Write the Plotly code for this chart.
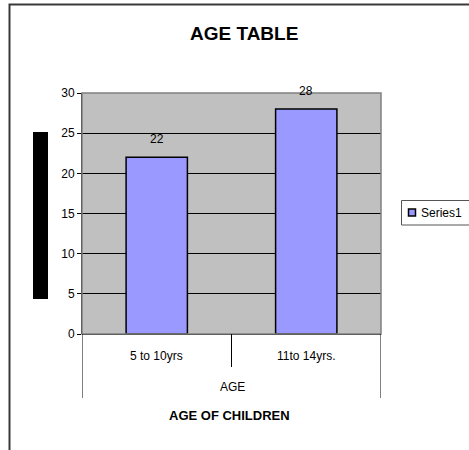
import plotly.graph_objects as go

categories = ["5 to 10yrs", "11to 14yrs."]
values = [22, 28]
group_label = "AGE"
series_name = "Series1"
title_text = "AGE TABLE"
x_title = "AGE OF CHILDREN"
y_ticks = [0, 5, 10, 15, 20, 25, 30]

W, H = 469, 450
L, R, T, B = 82, 88, 93, 116
PW, PH = W - L - R, H - T - B

def px(xp):
    return (xp - L) / PW

def py(yp):
    return (H - B - yp) / PH

FONT = "Liberation Sans, Arial, sans-serif"

fig = go.Figure()
fig.add_trace(go.Bar(
    x=categories, y=values, name=series_name, width=0.41,
    marker=dict(color="#9999FF", line=dict(color="#000000", width=1.5)),
    showlegend=False,
))

annotations = []
for c, v in zip(categories, values):
    annotations.append(dict(x=c, y=v, xref="x", yref="y", text=str(v), showarrow=False,
                            yanchor="bottom", yshift=9, font=dict(size=12, color="#000", family=FONT)))
    annotations.append(dict(x=c, y=py(356), xref="x", yref="paper", text=c, showarrow=False,
                            yanchor="middle", font=dict(size=12, color="#000", family=FONT)))
annotations.append(dict(x=px(232), y=py(387), xref="paper", yref="paper", text=group_label, showarrow=False,
                        yanchor="middle", font=dict(size=12, color="#000", family=FONT)))
annotations.append(dict(x=px(229), y=py(415), xref="paper", yref="paper", text="<b>" + x_title + "</b>",
                        showarrow=False, yanchor="middle", font=dict(size=13, color="#000", family=FONT)))
annotations.append(dict(x=px(244), y=py(33), xref="paper", yref="paper", text="<b>" + title_text + "</b>",
                        showarrow=False, yanchor="middle", font=dict(size=19, color="#000", family=FONT)))
# legend text
annotations.append(dict(x=px(419), y=py(212.5), xref="paper", yref="paper", text=series_name, showarrow=False,
                        xanchor="left", yanchor="middle", font=dict(size=12, color="#000", family=FONT)))

shapes = [
    # outer chart border
    dict(type="rect", xref="paper", yref="paper", x0=px(9.5), x1=px(480), y0=py(4.5), y1=py(460),
         line=dict(color="#3a3a3a", width=2), layer="below"),
    # plot area frame
    dict(type="rect", xref="paper", yref="paper", x0=0, x1=1, y0=0, y1=1,
         line=dict(color="#808080", width=1.5), layer="above"),
    # y axis title block (blacked out)
    dict(type="rect", xref="paper", yref="paper", x0=px(33), x1=px(48), y0=py(299), y1=py(132),
         fillcolor="#000", line=dict(width=0)),
    # category dividers
    dict(type="line", xref="x", yref="paper", x0=0.5, x1=0.5, y0=0, y1=py(367), line=dict(color="#000", width=1)),
    dict(type="line", xref="x", yref="paper", x0=-0.5, x1=-0.5, y0=0, y1=py(398), line=dict(color="#000", width=1)),
    dict(type="line", xref="x", yref="paper", x0=1.5, x1=1.5, y0=0, y1=py(398), line=dict(color="#000", width=1)),
    # legend box
    dict(type="rect", xref="paper", yref="paper", x0=px(401.5), x1=px(485), y0=py(225), y1=py(200.5),
         fillcolor="#fff", line=dict(color="#555", width=1)),
    dict(type="rect", xref="paper", yref="paper", x0=px(408.5), x1=px(415.5), y0=py(216), y1=py(209),
         fillcolor="#9999FF", line=dict(color="#000", width=1.5)),
]

fig.update_layout(
    width=W, height=H,
    margin=dict(l=L, r=R, t=T, b=B, autoexpand=False),
    paper_bgcolor="#ffffff", plot_bgcolor="#C0C0C0",
    font=dict(family=FONT, size=12, color="#000"),
    showlegend=False,
    annotations=annotations, shapes=shapes,
    xaxis=dict(type="category", range=[-0.5, 1.5], showticklabels=False, ticks="",
               showgrid=False, showline=False, zeroline=False, fixedrange=True),
    yaxis=dict(range=[0, 30], tickvals=y_ticks, ticks="outside", ticklen=4, tickcolor="#000",
               showgrid=True, gridcolor="#000", gridwidth=1, showline=True, linecolor="#000", linewidth=1,
               zeroline=True, zerolinecolor="#000", zerolinewidth=1,
               tickfont=dict(size=12, color="#000", family=FONT), fixedrange=True),
)

fig.write_html("out.html", config={"displayModeBar": False})
